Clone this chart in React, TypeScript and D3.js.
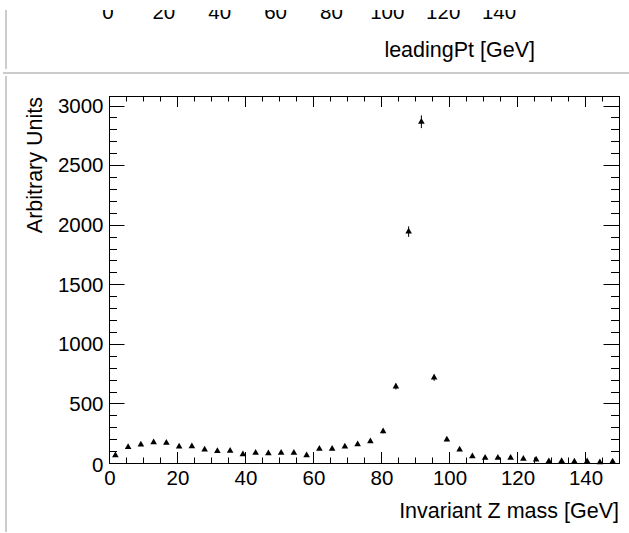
import React from 'react';
import * as d3 from 'd3';

// ---- data ----
const binRange = [0, 150];
const counts = [
  65, 133, 154, 174, 170, 137, 140, 112, 100, 102,
  73, 86, 82, 86, 86, 65, 119, 118, 137, 157,
  181, 265, 642, 1942, 2864, 716, 196, 112, 56, 43,
  43, 43, 34, 28, 15, 17, 12, 14, 6, 12,
];
const xTickValues = [0, 20, 40, 60, 80, 100, 120, 140];
const yTickValues = [0, 500, 1000, 1500, 2000, 2500, 3000];
const upperTickValues = [0, 20, 40, 60, 80, 100, 120, 140];
const xTitle = 'Invariant Z mass [GeV]';
const yTitle = 'Arbitrary Units';
const upperTitle = 'leadingPt [GeV]';

const W = 629;
const H = 533;
const FONT = '"Liberation Sans", Arial, Helvetica, sans-serif';

export default function App() {
  const fl = 109, fr = 619, ft = 96, fb = 463;
  const x = d3.scaleLinear().domain(binRange).range([fl, fr]);
  const y = d3.scaleLinear().domain([0, 3080]).range([fb, ft]);
  const xu = d3.scaleLinear().domain(binRange).range([fl - 1, 527]);

  const nb = counts.length;
  const bw = (binRange[1] - binRange[0]) / nb;
  const pts = counts.map((c, i) => ({ c: binRange[0] + (i + 0.5) * bw, v: c, e: Math.sqrt(c) }));

  const xMinor = d3.range(0, 150.001, 5);
  const yMinor = d3.range(0, 3080, 100);
  const tri = d3.symbol().type(d3.symbolTriangle).size(19)();

  const xMajLen = 11, xMinLen = 5.5, yMajLen = 15.5, yMinLen = 8;

  return (
    <svg width={W} height={H} style={{ position: 'absolute', left: 0, top: 0, background: '#fff' }}
      fontFamily={FONT}>
      <defs>
        <clipPath id="upperClip">
          <rect x={0} y={10} width={W} height={60} />
        </clipPath>
      </defs>
      <rect x={0} y={0} width={W} height={H} fill="#fff" />

      {/* upper pad remnants */}
      <g clipPath="url(#upperClip)">
        {upperTickValues.map((v) => (
          <text key={v} x={xu(v)} y={18.5} fontSize={20.5} textAnchor="middle" fill="#000">{v}</text>
        ))}
        <text x={535} y={57} fontSize={21.5} textAnchor="end" fill="#000">{upperTitle}</text>
        <line x1={6} x2={6} y1={10} y2={69} stroke="#cccccc" strokeWidth={2} />
      </g>
      <line x1={3} x2={W} y1={73} y2={73} stroke="#cccccc" strokeWidth={2} />
      <line x1={6} x2={6} y1={76} y2={532} stroke="#cccccc" strokeWidth={2} />

      {/* ticks */}
      <g stroke="#000" strokeWidth={1}>
        {xMinor.map((v) => {
          const major = v % 20 === 0;
          const L = major ? xMajLen : xMinLen;
          const px = Math.round(x(v)) + 0.5;
          return (
            <g key={'xt' + v}>
              <line x1={px} x2={px} y1={fb} y2={fb - L} />
              <line x1={px} x2={px} y1={ft} y2={ft + L} />
            </g>
          );
        })}
        {yMinor.map((v) => {
          const major = v % 500 === 0;
          const L = major ? yMajLen : yMinLen;
          const py = Math.round(y(v)) + 0.5;
          return (
            <g key={'yt' + v}>
              <line x1={fl} x2={fl + L} y1={py} y2={py} />
              <line x1={fr} x2={fr - L} y1={py} y2={py} />
            </g>
          );
        })}
      </g>

      {/* frame */}
      <rect x={fl + 0.5} y={ft + 0.5} width={fr - fl} height={fb - ft} fill="none" stroke="#000" strokeWidth={1} />

      {/* tick labels */}
      {xTickValues.map((v) => (
        <text key={'xl' + v} x={x(v) + 1} y={485} fontSize={20.5} textAnchor="middle" fill="#000">{v}</text>
      ))}
      {yTickValues.map((v) => (
        <text key={'yl' + v} x={fl - 5.5} y={y(v) + (v === 0 ? 1.5 : 0)} dy="0.36em" fontSize={20.5}
          textAnchor="end" fill="#000">{v}</text>
      ))}

      {/* axis titles */}
      <text x={fr} y={518} fontSize={21.5} textAnchor="end" fill="#000">{xTitle}</text>
      <text transform={`translate(42,${ft + 1}) rotate(-90)`} fontSize={21.5} textAnchor="end" fill="#000">{yTitle}</text>

      {/* data */}
      <g>
        {pts.map((p, i) => (
          <g key={'p' + i}>
            <line x1={x(p.c)} x2={x(p.c)} y1={y(p.v - p.e)} y2={y(p.v + p.e)} stroke="#000" strokeWidth={1} />
            <path d={tri} transform={`translate(${x(p.c)},${y(p.v)})`} fill="#000" />
          </g>
        ))}
      </g>
    </svg>
  );
}
